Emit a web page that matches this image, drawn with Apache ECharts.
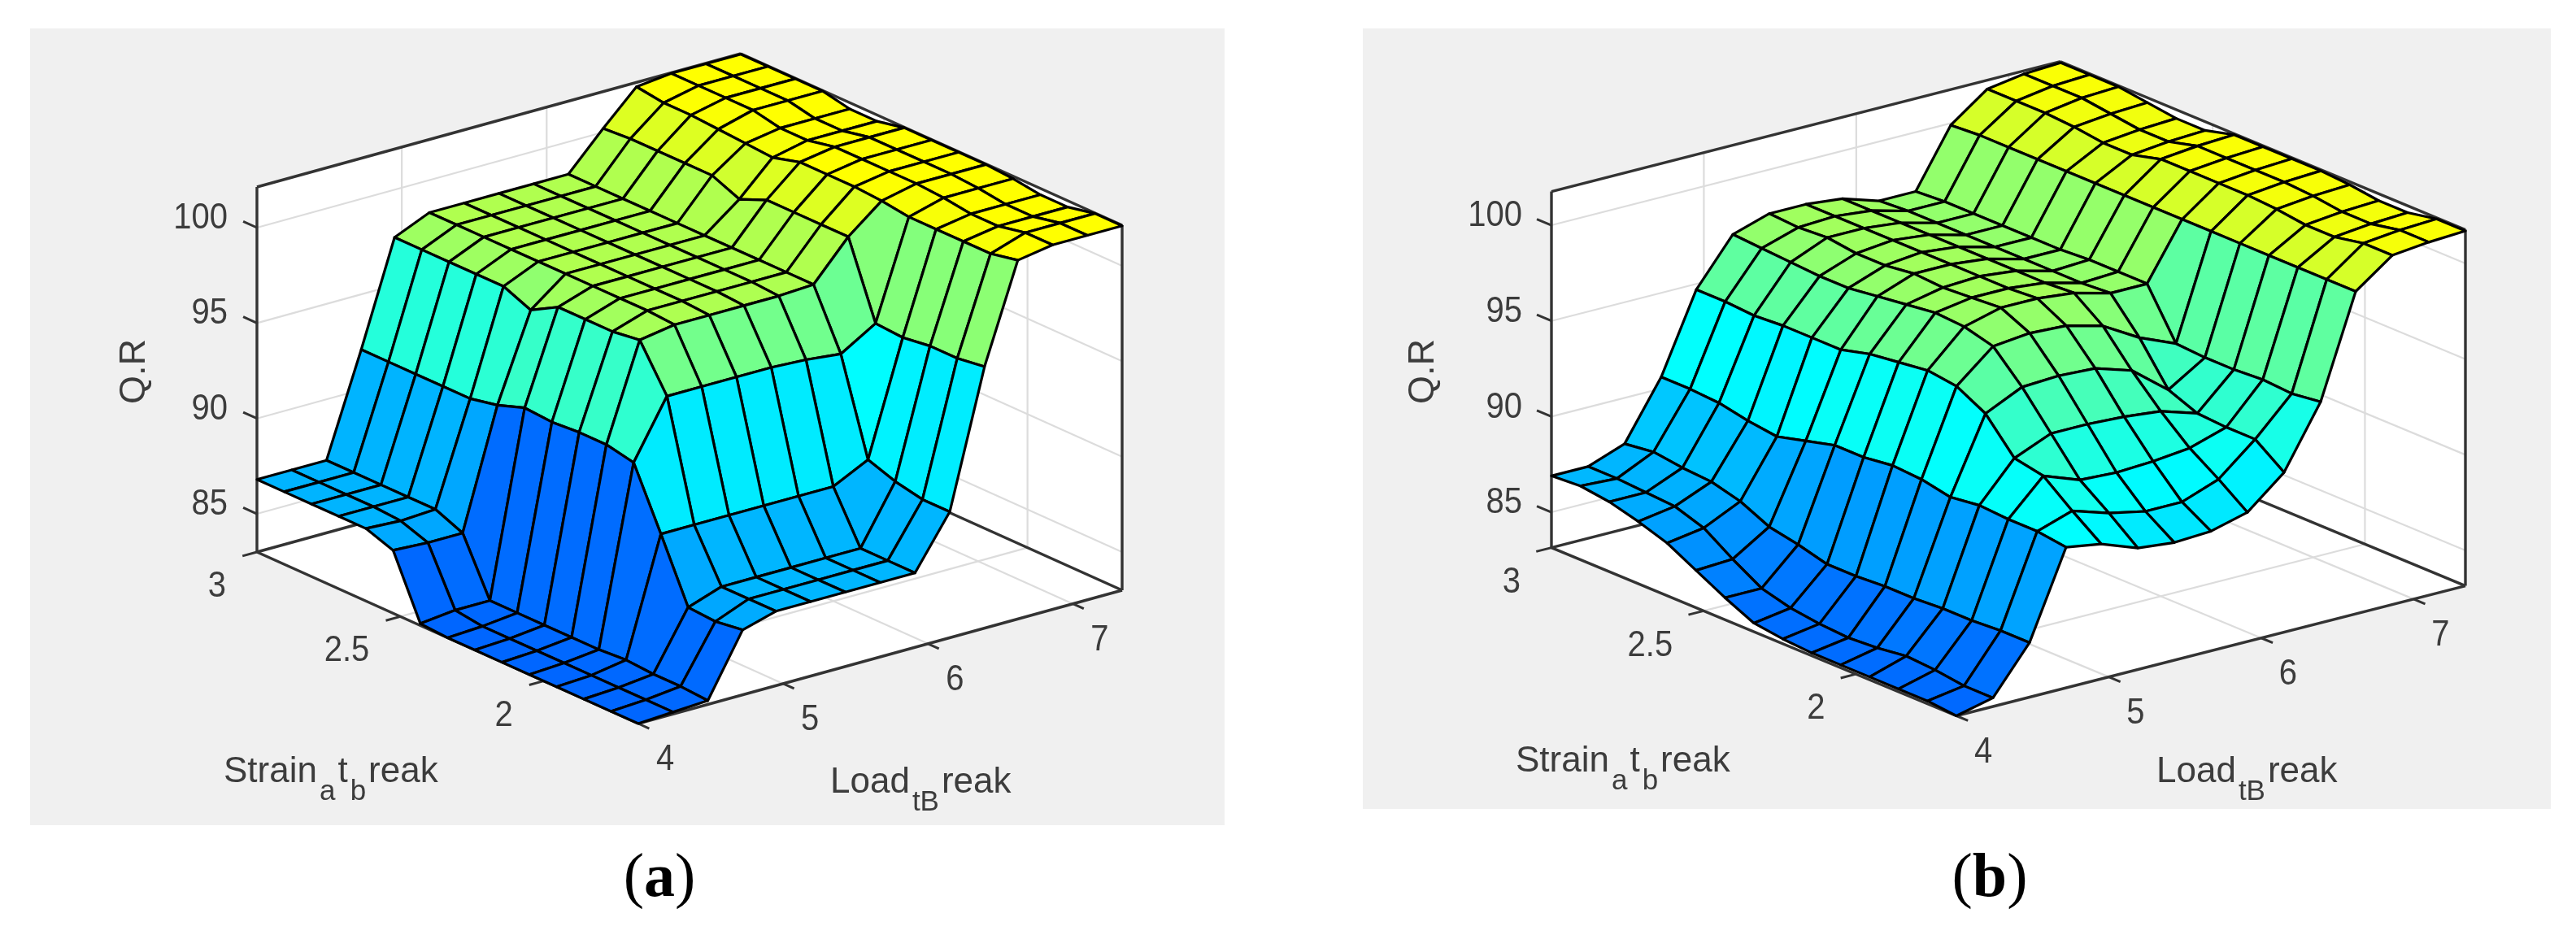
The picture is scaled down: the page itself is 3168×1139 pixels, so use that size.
<!DOCTYPE html>
<html><head><meta charset="utf-8">
<script src="https://cdn.jsdelivr.net/npm/echarts@6/dist/echarts.min.js"></script>
<style>html,body{margin:0;padding:0;background:#fff}#c{width:3168px;height:1139px;filter:blur(0.7px)}</style>
</head><body><div id="c"></div>
<script>
const loadGrid=[4,4.24,4.48,4.72,4.95,5.19,5.43,5.67,5.91,6.15,6.39,6.62,6.86,7.10,7.34];
const strainGrid=[1.67,1.765,1.86,1.955,2.05,2.145,2.24,2.335,2.43,2.525,2.62,2.715,2.81,2.905,3];
const zTicks=[85,90,95,100];
const loadTicks=[4,5,6,7];
const strainTicks=[2,2.5,3];
// Q.R values: one row per Load grid value, one column per Strain grid value
const qrA=[
[83.0,83.0,83.0,83.0,83.0,83.0,83.0,83.0,83.1,86.3,86.8,86.8,86.8,86.8,86.8],
[83.1,83.1,83.1,83.1,83.1,83.1,83.1,83.1,83.3,86.2,86.7,86.8,86.8,86.8,86.8],
[83.2,83.3,83.3,83.4,83.3,83.3,83.3,83.3,83.3,86.2,86.8,86.8,86.8,86.8,86.8],
[86.4,86.2,86.3,89.5,92.6,92.9,92.9,92.8,92.9,92.4,92.1,92.1,92.1,92.1,92.1],
[86.9,86.9,86.9,89.5,95.6,97.9,97.7,97.7,97.7,96.9,97.5,97.5,97.5,97.5,97.5],
[86.9,86.9,86.9,89.5,95.6,98.2,98.3,98.3,98.3,98.3,98.3,98.3,98.3,98.3,98.3],
[86.9,86.9,86.9,89.5,95.6,98.2,98.3,98.3,98.3,98.3,98.3,98.3,98.3,98.3,98.3],
[86.9,86.9,86.9,89.5,95.6,98.2,98.3,98.3,98.3,98.3,98.3,98.3,98.3,98.3,98.3],
[86.9,86.9,86.9,89.5,95.5,98.2,98.3,98.3,98.3,98.3,98.3,98.3,98.3,98.3,98.3],
[89.6,89.6,89.9,90.4,95.3,98.3,98.3,98.3,98.3,98.3,98.3,98.3,98.3,98.3,98.3],
[96.7,96.5,96.5,96.3,96.4,100.3,100.3,100.3,100.3,99.7,100.3,100.3,100.3,100.3,100.2],
[101.8,101.5,101.5,101.5,101.5,101.7,101.8,101.8,101.8,101.4,101.5,101.6,101.7,101.7,101.9],
[102.1,102.1,101.8,101.8,102.0,102.1,102.1,102.1,102.1,101.8,101.8,102.1,102.1,102.1,102.1],
[102.1,102.1,101.8,101.8,102.0,102.1,102.1,102.1,102.1,101.8,101.8,102.1,102.1,102.1,102.1],
[102.1,102.1,101.8,101.8,102.0,102.1,102.1,102.1,102.1,101.8,101.8,102.1,102.1,102.1,102.1]];
const qrB=[
[83.15,83.3,83.3,83.3,83.3,83.3,83.4,83.6,84.3,85.1,85.9,86.4,86.8,87.0,86.9],
[83.6,83.6,83.8,83.9,83.7,83.6,83.7,83.9,84.3,85.2,86.2,86.7,86.8,86.9,86.9],
[86.0,86.0,85.9,85.9,85.8,85.8,85.7,85.7,86.1,86.4,87.1,87.5,87.6,87.8,87.6],
[90.5,90.7,90.7,90.8,90.6,90.9,91.0,90.8,90.8,90.4,90.0,90.2,90.5,90.6,90.6],
[90.2,91.3,92.5,92.8,94.5,95.3,95.5,95.3,95.1,94.7,94.7,94.7,94.6,94.7,94.7],
[89.5,90.7,91.8,93.6,95.4,96.9,97.3,97.4,97.2,97.0,96.8,96.8,96.9,97.0,97.1],
[89.3,90.3,91.7,93.6,95.5,97.1,97.8,97.7,97.6,97.7,97.5,97.5,97.7,97.6,97.7],
[89.4,90.3,91.8,93.5,95.4,97.0,97.8,97.7,97.7,97.7,97.7,97.7,97.7,97.7,97.7],
[89.9,91.0,92.0,93.3,94.8,96.5,97.6,97.5,97.5,97.5,97.5,97.5,97.5,97.5,97.5],
[91.5,92.6,92.6,92.7,93.3,95.4,97.1,97.0,97.0,97.0,97.0,97.0,97.0,97.0,96.9],
[94.7,94.5,94.6,94.5,94.5,94.6,97.1,97.1,97.1,97.0,97.0,97.0,97.0,97.0,96.9],
[100.0,100.0,100.0,100.0,100.0,100.0,100.0,100.0,100.0,100.0,100.0,100.0,100.0,100.0,99.9],
[101.4,101.4,101.1,101.1,101.3,101.4,101.4,101.4,101.4,101.0,101.0,101.2,101.3,101.3,101.3],
[101.6,101.6,101.3,101.3,101.5,101.6,101.6,101.6,101.6,101.2,101.2,101.4,101.6,101.6,101.6],
[101.7,101.7,101.4,101.4,101.6,101.7,101.7,101.7,101.7,101.3,101.3,101.5,101.7,101.7,101.7]];

const layoutA={bg:[37,35,1469,980],left:[316,679],front:[785,890],right:[1380,726],height:449,zMin:83.0,zMax:102.13,
  qr:[166,457],strainText:[275,963],loadText:[1021,976],caption:[811,1082],capText:'a'};
const layoutB={bg:[1676,35,1461,960],left:[1908,673.6],front:[2406,880.5],right:[3032,720.6],height:438,zMin:83.15,zMax:101.76,
  qr:[1751,457],strainText:[1864,950],loadText:[2652,963],caption:[2447,1082],capText:'b'};
const loadRange=[4,7.34],strainRange=[1.67,3];
const INK='#3c3c3c',SANS='"Liberation Sans",Arial,sans-serif';

function project(p,load,strain,z){
  const fu=(load-loadRange[0])/(loadRange[1]-loadRange[0]);
  const fv=(strain-strainRange[0])/(strainRange[1]-strainRange[0]);
  return [
    p.front[0]+fu*(p.right[0]-p.front[0])+fv*(p.left[0]-p.front[0]),
    p.front[1]+fu*(p.right[1]-p.front[1])+fv*(p.left[1]-p.front[1])-(z-p.zMin)/(p.zMax-p.zMin)*p.height];
}
function jet(z){
  if(z<90.5){const g=Math.min(255,Math.round(102+(z-83)*20.4));return `rgb(0,${g},255)`;}
  const r=Math.min(255,Math.round((z-90.5)/11.3*255));
  return `rgb(${r},255,${255-r})`;
}
function measure(t,size){
  const c=measure.c||(measure.c=document.createElement('canvas').getContext('2d'));
  c.font=size+'px '+SANS;return c.measureText(t).width;
}
function sceneItems(p){
  const [l0,l1]=loadRange,[s0,s1]=strainRange,zl=p.zMin,zh=p.zMax,o=[];
  const poly=(pts,fill)=>o.push({t:'poly',pts:pts.map(a=>project(p,...a)),fill});
  const line=(a,b,color,w)=>o.push({t:'line',a:project(p,...a),b:project(p,...b),color,w});
  const GRID='#dcdcdc',BOX='#333333';
  o.push({t:'rect',r:p.bg});
  poly([[l0,s1,zl],[l1,s1,zl],[l1,s1,zh],[l0,s1,zh]],'#fff');
  poly([[l1,s1,zl],[l1,s0,zl],[l1,s0,zh],[l1,s1,zh]],'#fff');
  poly([[l0,s0,zl],[l1,s0,zl],[l1,s1,zl],[l0,s1,zl]],'#fff');
  zTicks.forEach(z=>{line([l0,s1,z],[l1,s1,z],GRID,2.2);line([l1,s1,z],[l1,s0,z],GRID,2.2);});
  loadTicks.filter(v=>v>l0).forEach(v=>{line([v,s1,zl],[v,s1,zh],GRID,2.2);line([v,s0,zl],[v,s1,zl],GRID,2.2);});
  strainTicks.filter(v=>v<s1).forEach(v=>{line([l1,v,zl],[l1,v,zh],GRID,2.2);line([l0,v,zl],[l1,v,zl],GRID,2.2);});
  [[[l0,s1,zh],[l1,s1,zh]],[[l1,s1,zh],[l1,s0,zh]],[[l0,s1,zl],[l0,s1,zh]],[[l1,s0,zl],[l1,s0,zh]],
   [[l0,s1,zl],[l1,s1,zl]],[[l1,s1,zl],[l1,s0,zl]],[[l0,s1,zl],[l0,s0,zl]],[[l0,s0,zl],[l1,s0,zl]]]
   .forEach(e=>line(e[0],e[1],BOX,3.4));
  zTicks.forEach(z=>{line([l0,s1,z],[l0,s1+0.048,z],BOX,3);
    const q=project(p,l0,s1,z);o.push({t:'text',x:q[0]-36,y:q[1]-11,text:String(z),size:40,align:'right',sy:1.1});});
  loadTicks.forEach(v=>{line([v,s0,zl],[v,s0-0.038,zl],BOX,3);
    const q=project(p,v,s0,zl);o.push({t:'text',x:q[0]+33,y:q[1]+45,text:String(v),size:40,align:'center',sy:1.1});});
  strainTicks.forEach(v=>{line([l0,v,zl],[l0-0.1,v,zl],BOX,3);
    const q=project(p,l0,v,zl);o.push({t:'text',x:q[0]-38,y:q[1]+43,text:String(v),size:40,align:'right',sy:1.1});});
  o.push({t:'text',x:p.qr[0],y:p.qr[1],text:'Q.R',size:45,align:'center',rot:Math.PI/2});
  const piecewise=(start,parts)=>{let x=start[0];parts.forEach(([txt,sub])=>{
    const size=sub?35:44;
    o.push({t:'text',x,y:start[1]+(sub?21:0)+0.212*size,text:txt,size,align:'left',base:true});
    x+=measure(txt,size)+3;});};
  piecewise(p.strainText,[['Strain',0],['a',1],['t',0],['b',1],['reak',0]]);
  piecewise(p.loadText,[['Load',0],['tB',1],['reak',0]]);
  o.push({t:'caption',x:p.caption[0],y:p.caption[1],letter:p.capText});
  return o;
}
function frameSeries(p){
  const items=sceneItems(p);
  return {type:'custom',coordinateSystem:'cartesian2d',silent:true,clip:false,animation:false,z:1,
    data:items.map((_,i)=>[i,0]),
    renderItem(params,api){
      const it=items[api.value(0)],c=a=>api.coord(a);
      if(it.t==='rect'){const a=c([it.r[0],it.r[1]]),b=c([it.r[0]+it.r[2],it.r[1]+it.r[3]]);
        return {type:'rect',shape:{x:a[0],y:a[1],width:b[0]-a[0],height:b[1]-a[1]},style:{fill:'#f0f0f0'}};}
      if(it.t==='poly')return {type:'polygon',shape:{points:it.pts.map(c)},style:{fill:it.fill}};
      if(it.t==='line'){const a=c(it.a),b=c(it.b);
        return {type:'line',shape:{x1:a[0],y1:a[1],x2:b[0],y2:b[1]},style:{stroke:it.color,lineWidth:it.w,fill:null}};}
      if(it.t==='caption'){const a=c([it.x,it.y]);
        return {type:'text',x:a[0],y:a[1],style:{text:`{p|(}{b|${it.letter}}{p|)}`,align:'center',verticalAlign:'middle',
          rich:{p:{fontFamily:'"Liberation Serif",serif',fontSize:76,fill:'#000'},
                b:{fontFamily:'"Liberation Serif",serif',fontWeight:'bold',fontSize:76,fill:'#000'}}}};}
      const a=c([it.x,it.y]);
      return {type:'text',x:a[0],y:a[1],rotation:it.rot||0,scaleY:it.sy||1,style:{text:it.text,fill:INK,fontFamily:SANS,fontSize:it.size,
        align:it.align,verticalAlign:it.base?'bottom':'middle'}};
    }};
}
function surfaceSeries(p,qr){
  const cells=[];
  for(let i=loadGrid.length-2;i>=0;i--)for(let j=strainGrid.length-2;j>=0;j--)cells.push([i,j]);
  return {type:'custom',coordinateSystem:'cartesian2d',silent:true,clip:false,animation:false,z:2,data:cells,
    renderItem(params,api){
      const i=api.value(0),j=api.value(1);
      const corner=(a,b)=>api.coord(project(p,loadGrid[a],strainGrid[b],qr[a][b]));
      return {type:'polygon',shape:{points:[corner(i,j),corner(i+1,j),corner(i+1,j+1),corner(i,j+1)]},
        style:{fill:jet(qr[i][j]),stroke:'#000',lineWidth:3.2,lineJoin:'round'}};
    }};
}
const chart=echarts.init(document.getElementById('c'),null,{renderer:'canvas'});
chart.setOption({animation:false,backgroundColor:'#fff',
  grid:{left:0,right:0,top:0,bottom:0},
  xAxis:{type:'value',min:0,max:3168,show:false},
  yAxis:{type:'value',min:0,max:1139,inverse:true,show:false},
  series:[frameSeries(layoutA),surfaceSeries(layoutA,qrA),frameSeries(layoutB),surfaceSeries(layoutB,qrB)]});
</script></body></html>
